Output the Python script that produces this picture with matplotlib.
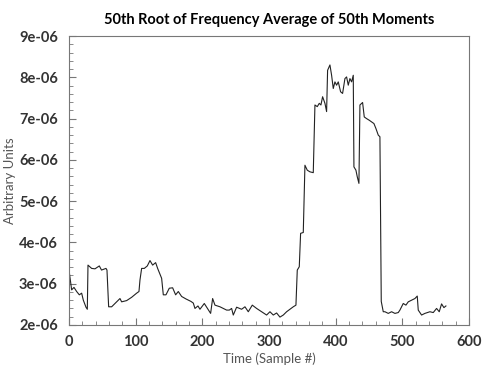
import numpy as np
import matplotlib.pyplot as plt
from matplotlib.ticker import MultipleLocator, FuncFormatter

plt.rcParams['font.family'] = ['Lato', 'DejaVu Sans']

# samples
sample = [0, 4, 7.5, 11.5, 15.5, 19, 21.5, 25.5, 27.5, 28.5, 34, 39, 45.5, 48.8, 55.5, 57,
          59.5, 64, 69, 76.5, 79, 86.5, 94, 101.5, 105, 106.5, 109, 113, 117.5, 121.5, 125.5,
          130, 133, 139, 141.5, 145.5, 150.5, 155.5, 160, 164, 169, 175.5, 183, 186.5, 189,
          193.5, 196.5, 203, 206.5, 212.5, 215.5, 219, 226.5, 236.5, 240.5, 244, 246.5, 251.5,
          259, 264, 269, 275, 281.5, 289, 296.5, 301.5, 306.5, 311.5, 316.5, 321.5, 326.5,
          331.5, 336.5, 340.5, 342.5, 345.5, 347.5, 351.5, 354, 357.5, 361.5, 366.5, 369,
          372.5, 375.5, 378, 380.5, 384, 386.5, 388, 391.5, 394, 396.5, 399, 401.5, 404,
          407.5, 410.5, 414, 416.5, 419, 421.5, 424, 426.5, 427.5, 430.5, 432.5, 435, 436.5,
          440.5, 443, 446.5, 450.5, 454, 457.5, 460.5, 464, 466.5, 468.5, 471.5, 474, 479,
          484, 489, 494, 496.5, 501.5, 505.5, 509, 514, 519, 522.5, 524, 529, 534, 541.5,
          546.5, 551.5, 555.5, 559, 562.5, 565.5]
value_e6 = [3.33, 2.85, 2.91, 2.81, 2.73, 2.77, 2.60, 2.43, 2.38, 3.45, 3.37, 3.36, 3.43, 3.33,
            3.37, 3.33, 2.44, 2.44, 2.52, 2.64, 2.56, 2.59, 2.67, 2.77, 2.81, 3.09, 3.37, 3.37,
            3.43, 3.56, 3.45, 3.51, 3.37, 3.13, 2.73, 2.73, 2.89, 2.90, 2.73, 2.81, 2.69, 2.63,
            2.57, 2.53, 2.40, 2.46, 2.38, 2.52, 2.43, 2.28, 2.64, 2.48, 2.44, 2.36, 2.36, 2.40,
            2.24, 2.43, 2.38, 2.44, 2.32, 2.48, 2.40, 2.32, 2.24, 2.32, 2.24, 2.29, 2.19, 2.24,
            2.32, 2.38, 2.44, 2.48, 3.33, 3.41, 4.22, 4.24, 5.87, 5.75, 5.71, 5.69, 7.33, 7.29,
            7.37, 7.33, 7.53, 7.37, 7.17, 8.17, 8.30, 8.05, 7.73, 7.89, 7.81, 7.89, 7.65, 7.61,
            7.97, 8.01, 7.81, 7.97, 7.89, 8.05, 5.83, 5.75, 5.59, 5.43, 7.33, 7.39, 7.04, 7.00,
            6.96, 6.92, 6.88, 6.76, 6.60, 6.56, 2.57, 2.32, 2.32, 2.28, 2.32, 2.28, 2.30, 2.36,
            2.52, 2.48, 2.56, 2.60, 2.64, 2.70, 2.36, 2.24, 2.28, 2.32, 2.30, 2.40, 2.32, 2.51,
            2.42, 2.46]

values = np.array(value_e6) * 1e-6

fig = plt.figure(figsize=(4.91, 3.68), dpi=100)
ax = fig.add_axes([0.1405, 0.117, 0.8145, 0.785])
ax.plot(sample, values, color='#222222', lw=0.8)

ax.set_xlim(0, 600)
ax.set_ylim(2e-6, 9e-6)
ax.xaxis.set_major_locator(MultipleLocator(100))
ax.xaxis.set_minor_locator(MultipleLocator(20))
ax.yaxis.set_major_locator(MultipleLocator(1e-6))
ax.yaxis.set_minor_locator(MultipleLocator(2e-7))
ax.yaxis.set_major_formatter(FuncFormatter(lambda v, p: f"{v:.0e}"))

for s in ax.spines.values():
    s.set_color('#777777')
ax.tick_params(which='both', direction='in', colors='#777777', labelcolor='#333333')
ax.tick_params(which='major', length=5, labelsize=10.5)
ax.tick_params(axis='x', which='major', pad=7)
ax.tick_params(axis='y', which='major', pad=8)
ax.tick_params(which='minor', length=3)
for lab in ax.get_xticklabels() + ax.get_yticklabels():
    lab.set_fontweight('bold')

ax.set_title('50th Root of Frequency Average of 50th Moments', fontsize=10.5,
             fontweight='bold', pad=9)
ax.set_xlabel('Time (Sample #)', fontsize=9.5, color='#555555', labelpad=3)
ax.set_ylabel('Arbitrary Units', fontsize=9.5, color='#555555')
ax.yaxis.set_label_coords(-0.132, 0.5)

fig.savefig('out.png', dpi=100)
